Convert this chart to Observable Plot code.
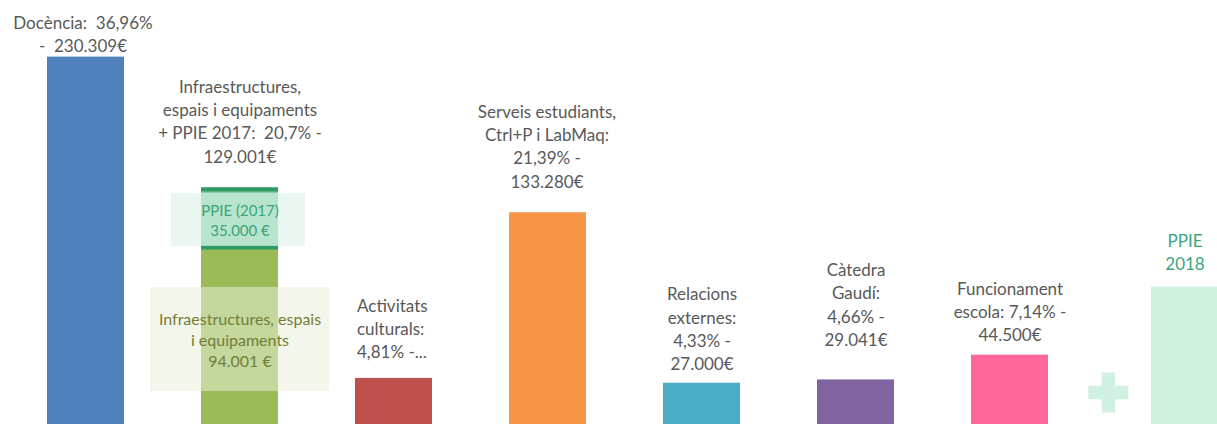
<!DOCTYPE html>
<html><head><meta charset="utf-8">
<script src="https://cdn.jsdelivr.net/npm/d3@7"></script>
<script src="https://cdn.jsdelivr.net/npm/@observablehq/plot@0.6"></script>
<style>
html,body{margin:0;padding:0;background:#fff;overflow:hidden}
g[aria-label="plus"]{filter:drop-shadow(2px 2px 1.5px rgba(80,130,100,0.4))}
</style></head><body><div id="chart"></div>
<script>
// ---- data ----
const categories = ["Docència", "Infraestructures", "Activitats culturals", "Serveis estudiants",
  "Relacions externes", "Càtedra Gaudí", "Funcionament escola", "PPIE 2018"];
const mainCats = ["Docència", "Activitats culturals", "Serveis estudiants", "Relacions externes", "Càtedra Gaudí", "Funcionament escola"];
const mainValues = [230309, 29973, 133280, 27000, 29041, 44500];
const mainColors = ["#4f81bd", "#c0504d", "#f79646", "#4bacc6", "#8064a2", "#ff6699"];
const infraParts = ["Infraestructures, espais i equipaments", "PPIE (2017)"];
const infraValues = [110400, 38600];           // drawn lengths
const infraColors = ["#9bbb59", "rgb(130,205,165)"];
const ppie2018Value = 86900;
const labelTexts = [
  "Docència:\u00a0 36,96%\n-\u00a0 230.309€",
  "Infraestructures,\nespais i equipaments\n+ PPIE 2017:\u00a0 20,7% -\n129.001€",
  "Activitats\nculturals:\n4,81% -...",
  "Serveis estudiants,\nCtrl+P i LabMaq:\n21,39% -\n133.280€",
  "Relacions\nexternes:\n4,33% -\n27.000€",
  "Càtedra\nGaudí:\n4,66% -\n29.041€",
  "Funcionament\nescola: 7,14% -\n44.500€",
  "PPIE\n2018"
];
const calloutTexts = ["PPIE (2017)\n35.000 €", "Infraestructures, espais\ni equipaments\n94.001 €"];
const calloutRanges = [[112200, 145300], [21800, 86700]];

// ---- layout (positions / styles) ----
const labelLayout = [
  {dx: -3, dy: -5},
  {dx: 0, dy: -25},
  {dx: -37, dy: -20, anchor: "start"},
  {dx: -1, dy: -25},
  {dx: 0, dy: -13},
  {dx: 0, dy: -34},
  {dx: 0, dy: -14},
  {dx: 21, dy: -17, fill: "#3aa57c"}
];
const ppieShift = 26;

const mainRows = mainCats.map((c, i) => ({cat: c, value: mainValues[i], color: mainColors[i]}));
const infraRows = infraParts.map((p, i) => ({cat: "Infraestructures", part: p, value: infraValues[i], color: infraColors[i]}));
const infraTotal = d3.sum(infraValues);
const tops = categories.map(c => c === "Infraestructures" ? infraTotal : c === "PPIE 2018" ? ppie2018Value : mainValues[mainCats.indexOf(c)]);

const labelMarks = labelTexts.map((t, i) => Plot.text([{cat: categories[i], y: tops[i], t}], {
  x: "cat", y: "y", text: "t",
  dx: labelLayout[i].dx, dy: labelLayout[i].dy,
  textAnchor: labelLayout[i].anchor || "middle", lineAnchor: "bottom", lineHeight: 1.37,
  fill: labelLayout[i].fill || "#595959", fontSize: 17
}));

const chart = Plot.plot({
  width: 1217, height: 424,
  marginLeft: 45.5, marginRight: 12.75, marginTop: 0, marginBottom: -2,
  x: {domain: categories, paddingInner: 0.5, paddingOuter: 0, axis: null},
  y: {domain: [0, 265600], axis: null},
  color: {type: "identity"},
  style: {fontFamily: "Lato, 'Noto Sans', sans-serif", fontSize: "17px", background: "#fff"},
  marks: [
    Plot.barY(mainRows, {x: "cat", y: "value", fill: "color"}),
    Plot.barY(infraRows, {x: "cat", y: "value", fill: "color"}),
    Plot.tickY([{cat: "Infraestructures", y: infraTotal}], {x: "cat", y: "y", stroke: "#2f9a63", strokeWidth: 4, dy: 2}),
    Plot.tickY([{cat: "Infraestructures", y: infraValues[0]}], {x: "cat", y: "y", stroke: "#2f9a63", strokeWidth: 4, dy: -2}),
    Plot.barY([{cat: "PPIE 2018", value: ppie2018Value}], {x: "cat", y: "value", fill: "#d0f0e0", dx: ppieShift}),
    // callout boxes
    Plot.barY([{cat: "Infraestructures", y1: calloutRanges[0][0], y2: calloutRanges[0][1]}],
      {x: "cat", y1: "y1", y2: "y2", fill: "rgb(220,242,230)", fillOpacity: 0.6, insetLeft: -30, insetRight: -27}),
    Plot.barY([{cat: "Infraestructures", y1: calloutRanges[1][0], y2: calloutRanges[1][1]}],
      {x: "cat", y1: "y1", y2: "y2", fill: "rgb(232,240,218)", fillOpacity: 0.53, insetLeft: -51, insetRight: -51}),
    Plot.text([{cat: "Infraestructures", y: d3.mean(calloutRanges[0]), t: calloutTexts[0]}],
      {x: "cat", y: "y", text: "t", lineAnchor: "middle", lineHeight: 1.33, fontSize: 15, fill: "#3aa57c"}),
    Plot.text([{cat: "Infraestructures", y: d3.mean(calloutRanges[1]), t: calloutTexts[1]}],
      {x: "cat", y: "y", text: "t", lineAnchor: "middle", lineHeight: 1.31, fontSize: 16, fill: "#727d36"}),
    ...labelMarks,
    Plot.dot([{cat: "PPIE 2018", y: 0}], {x: "cat", y: "y", symbol: "cross", r: 16.8, fill: "#d0f0e0", dx: -55.6, dy: -34, ariaLabel: "plus"})
  ]
});
document.getElementById("chart").appendChild(chart);
</script></body></html>
